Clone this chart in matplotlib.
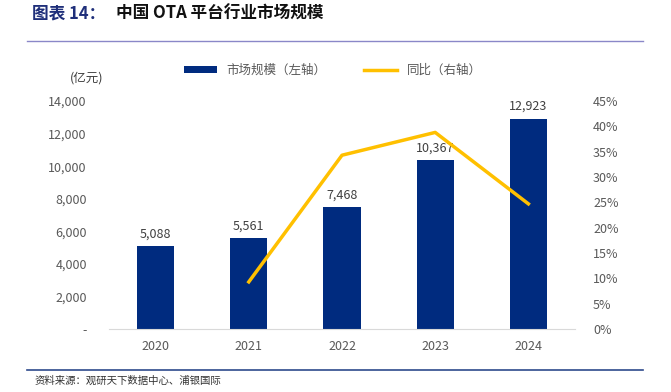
import matplotlib

matplotlib.use("Agg")

import matplotlib.pyplot as plt
from matplotlib.ticker import FuncFormatter, MultipleLocator

plt.rcParams["font.family"] = ["Noto Sans CJK SC", "DejaVu Sans"]

years = ["2020", "2021", "2022", "2023", "2024"]
market_size = [5088, 5561, 7468, 10367, 12923]
growth_years = ["2021", "2022", "2023", "2024"]
growth = [9.3, 34.3, 38.8, 24.7]

BAR_COLOR = "#002B7F"
LINE_COLOR = "#FFC000"
TICK_COLOR = "#595959"

fig = plt.figure(figsize=(6.71, 3.92), dpi=100)
W, H = 671, 392

# title and rules
fig.text(32 / W, 1 - 14 / H, "图表 14：", color="#1F2F7A", fontsize=12,
         fontweight="bold", va="center", ha="left")
fig.text(116 / W, 1 - 14 / H, "中国 OTA 平台行业市场规模", color="#111111",
         fontsize=12, fontweight="bold", va="center", ha="left")
fig.add_artist(plt.Line2D([27 / W, 643 / W], [1 - 41 / H] * 2,
                          color="#8A87C8", lw=1))
fig.add_artist(plt.Line2D([27 / W, 643 / W], [1 - 370 / H] * 2,
                          color="#2E4A8C", lw=1.2))
fig.text(35 / W, 1 - 381 / H, "资料来源：观研天下数据中心、浦银国际",
         fontsize=7.5, color="#333333", va="center", ha="left")

ax = fig.add_axes([109 / W, 1 - 329 / H, (575 - 109) / W, (329 - 101) / H])
x = list(range(len(years)))
bars = ax.bar(x, market_size, width=0.4, color=BAR_COLOR, label="市场规模（左轴）",
              zorder=2)
ax.bar_label(bars, labels=[f"{v:,}" for v in market_size], padding=4,
             fontsize=9, color="#404040")
ax.set_xlim(-0.5, len(years) - 0.5)
ax.set_ylim(0, 14000)
ax.yaxis.set_major_locator(MultipleLocator(2000))
ax.yaxis.set_major_formatter(FuncFormatter(lambda v, _: "-" if v == 0 else f"{v:,.0f}"))
ax.set_xticks(x, years)
ax.tick_params(axis="both", length=0, labelsize=9, colors=TICK_COLOR)
ax.tick_params(axis="y", pad=16)
ax.tick_params(axis="x", pad=8)
for side in ("top", "right", "left"):
    ax.spines[side].set_visible(False)
ax.spines["bottom"].set_color("#D9D9D9")

ax2 = ax.twinx()
gx = [years.index(y) for y in growth_years]
ax2.plot(gx, growth, color=LINE_COLOR, lw=2.5, label="同比（右轴）", zorder=3)
ax2.set_ylim(0, 45)
ax2.yaxis.set_major_locator(MultipleLocator(5))
ax2.yaxis.set_major_formatter(FuncFormatter(lambda v, _: f"{v:.0f}%"))
ax2.tick_params(axis="y", length=0, labelsize=9, colors=TICK_COLOR, pad=13)
for side in ("top", "right", "left", "bottom"):
    ax2.spines[side].set_visible(False)

fig.text(70 / W, 1 - 78 / H, "(亿元)", fontsize=9, color="#404040",
         va="center", ha="left")

handles = [bars, ax2.get_lines()[0]]
fig.legend(handles, ["市场规模（左轴）", "同比（右轴）"], loc="center",
           bbox_to_anchor=(333 / W, 1 - 70 / H), ncol=2, frameon=False,
           fontsize=9, labelcolor="#595959", handlelength=2.6,
           handleheight=0.5, columnspacing=3.0)

fig.savefig("out.png", dpi=100)
